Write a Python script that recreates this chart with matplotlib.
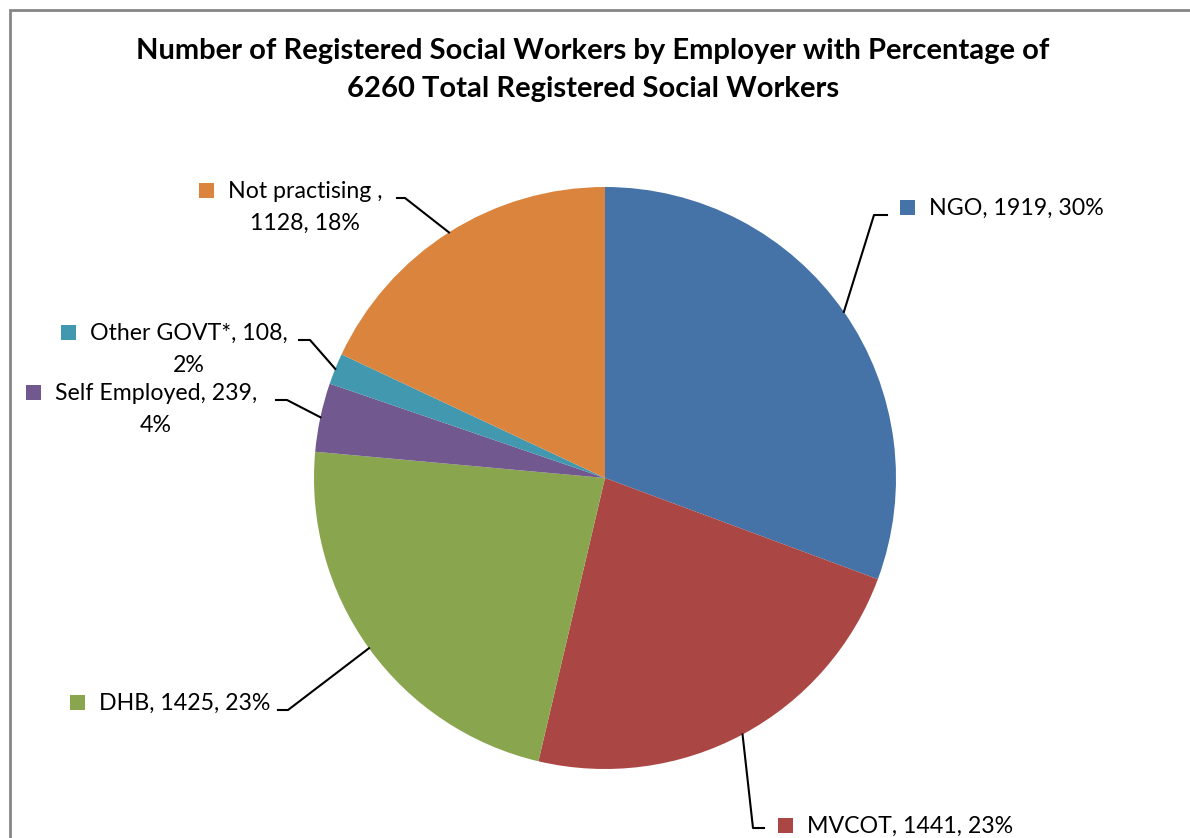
import matplotlib
matplotlib.use("Agg")
import matplotlib.pyplot as plt
import numpy as np
from matplotlib.patches import Rectangle

# figure size in pixels (dpi 100)
W, H = 1190, 838

total = 6260
categories = ["NGO", "MVCOT", "DHB", "Self Employed", "Other GOVT*", "Not practising "]
counts = [1919, 1441, 1425, 239, 108, 1128]
percents = [30, 23, 23, 4, 2, 18]
colors = ["#4572A7", "#AA4643", "#89A54E", "#71588F", "#4198AF", "#DB843D"]

title_lines = [
    "Number of Registered Social Workers by Employer with Percentage of",
    f"{total} Total Registered Social Workers",
]

# label layout in pixel coords (top-left origin):
# text left x, first baseline y, wrap after n-th comma (None = one line),
# leader elbow (x, y) and end of the short horizontal stub
label_layout = {
    "NGO": dict(x=929, y=215, wrap=None, elbow=(874, 215), stub=887),
    "MVCOT": dict(x=807, y=833, wrap=None, elbow=(753, 828), stub=764),
    "DHB": dict(x=99, y=710, wrap=None, elbow=(288, 710), stub=278),
    "Self Employed": dict(x=55, y=400, wrap=2, elbow=(287, 400), stub=276),
    "Other GOVT*": dict(x=90, y=340, wrap=2, elbow=(310, 340), stub=299),
    "Not practising ": dict(x=228, y=198, wrap=1, elbow=(405, 198), stub=397),
}

CX, CY, R = 605, 478, 291
FONT = "Lato"
LABEL_SIZE = 16.7
TITLE_SIZE = 21


def Y(py):
    # pixel row -> data y
    return H - py


fig = plt.figure(figsize=(W / 100, H / 100), dpi=100)
ax = fig.add_axes([0, 0, 1, 1])
ax.set_xlim(0, W)
ax.set_ylim(0, H)
ax.set_aspect("equal")
ax.axis("off")

# chart frame (only left and top edges are visible in the crop)
ax.plot([10, 10, W + 5], [-5, Y(10), Y(10)], color="#868686", lw=2, solid_joinstyle="miter")

wedges, _ = ax.pie(
    counts,
    colors=colors,
    startangle=90,
    counterclock=False,
    center=(CX, Y(CY)),
    radius=R,
    frame=True,
    wedgeprops=dict(linewidth=0),
)
ax.set_xlim(0, W)
ax.set_ylim(0, H)
ax.axis("off")

for tline, by in zip(title_lines, [59, 97]):
    ax.text(593, Y(by), tline, ha="center", va="baseline", fontsize=TITLE_SIZE,
            fontweight="bold", family=FONT, color="black")

renderer = fig.canvas.get_renderer()

for w, name, cnt, pct, col in zip(wedges, categories, counts, percents, colors):
    lay = label_layout[name]
    parts = [name, str(cnt), f"{pct}%"]
    if lay["wrap"] is None:
        lines = [", ".join(parts)]
    else:
        k = lay["wrap"]
        lines = [", ".join(parts[:k]) + ",", ", ".join(parts[k:])]

    tx, by = lay["x"], lay["y"]
    t1 = ax.text(tx, Y(by), lines[0], ha="left", va="baseline", fontsize=LABEL_SIZE,
                 family=FONT, color="black")
    if len(lines) > 1:
        ext = t1.get_window_extent(renderer)
        ax.text((ext.x0 + ext.x1) / 2, Y(by + 32), lines[1], ha="center", va="baseline",
                fontsize=LABEL_SIZE, family=FONT, color="black")

    # legend key square
    ax.add_patch(Rectangle((tx - 29, Y(by)), 15, 15, color=col, lw=0))

    # leader line from wedge middle on the rim
    mid = np.deg2rad((w.theta1 + w.theta2) / 2)
    ex, ey = CX + R * np.cos(mid), Y(CY) + R * np.sin(mid)
    elx, ely = lay["elbow"]
    ax.plot([ex, elx, lay["stub"]], [ey, Y(ely), Y(ely)], color="black", lw=1.5)

fig.savefig("out.png", dpi=100, facecolor="white")
